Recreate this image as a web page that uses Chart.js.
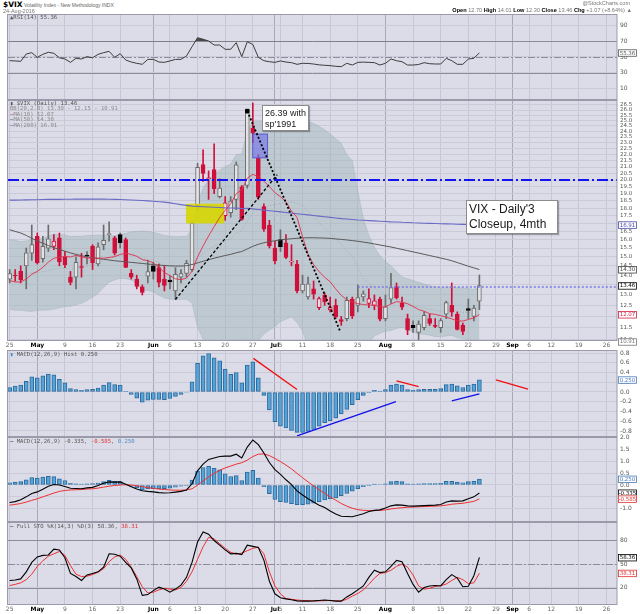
<!DOCTYPE html>
<html>
<head>
<meta charset="utf-8">
<script src="https://cdn.jsdelivr.net/npm/chart.js@4.4.1/dist/chart.umd.min.js"></script>
<style>
html,body{margin:0;padding:0;background:#fff;}
body{width:640px;height:614px;position:relative;overflow:hidden;font-family:"DejaVu Sans",Verdana,sans-serif;}
canvas{position:absolute;left:0;}
.lbl{position:absolute;white-space:nowrap;line-height:1;}
.leg{position:absolute;left:10px;font-family:"DejaVu Sans Mono",monospace;font-size:5.6px;color:#555;white-space:nowrap;line-height:5.4px;z-index:5;}
.note{position:absolute;background:#fff;border:1px solid #8c8c8c;box-shadow:1px 1px 1px rgba(0,0,0,0.3);font-family:"Liberation Sans",Arial,sans-serif;color:#1a1a1a;white-space:nowrap;z-index:6;box-sizing:border-box;}
</style>
</head>
<body>
<canvas id="cRsi" width="640" height="86" style="top:14px"></canvas>
<canvas id="cMain" width="640" height="255" style="top:95px"></canvas>
<canvas id="cHist" width="640" height="92" style="top:345px"></canvas>
<canvas id="cMacd" width="640" height="90" style="top:432px"></canvas>
<canvas id="cSto" width="640" height="97" style="top:517px"></canvas>

<div class="lbl" style="left:3px;top:1px;font-family:'Liberation Sans',Arial,sans-serif;font-size:5px;color:#666"><b style="color:#000;font-size:7.5px;font-family:'DejaVu Sans',sans-serif">$VIX</b> Volatility Index - New Methodology INDX</div>
<div class="lbl" style="left:3px;top:9px;font-family:'Liberation Sans',Arial,sans-serif;font-size:5.5px;color:#777">24-Aug-2016</div>
<div class="lbl" style="right:10px;top:1px;font-family:'Liberation Sans',Arial,sans-serif;font-size:5.5px;color:#777">@StockCharts.com</div>
<div class="lbl" style="right:8px;top:8px;font-family:'Liberation Sans',Arial,sans-serif;font-size:5.6px;color:#777"><b style="color:#000">Open</b> 12.70 <b style="color:#000">High</b> 14.01 <b style="color:#000">Low</b> 12.30 <b style="color:#000">Close</b> 13.46 <b style="color:#000">Chg</b> +1.07 (+8.64%) &#9650;</div>

<div class="leg" style="top:15px">&#9650;RSI(14) 55.36</div>
<div class="leg" style="top:101px">
<div>&#9646; $VIX (Daily) 13.46</div>
<div style="color:#8a8a8a">BB(20,2.0) 13.39 - 12.15 - 10.91</div>
<div style="color:#d02040">&#8212;<span style="color:#888">MA(10) 12.07</span></div>
<div style="color:#444">&#8212;<span style="color:#888">MA(50) 14.30</span></div>
<div style="color:#5050b8">&#8212;<span style="color:#888">MA(200) 16.91</span></div>
</div>
<div class="leg" style="top:352px"><span style="color:#3a8ac4">&#9646;</span> MACD(12,26,9) Hist 0.250</div>
<div class="leg" style="top:439px"><span style="color:#000">&#8212;</span> MACD(12,26,9) -0.335, <span style="color:#e03030">-0.585</span>, <span style="color:#4a8ac8">0.250</span></div>
<div class="leg" style="top:524px"><span style="color:#000">&#8212;</span> Full STO %K(14,3) %D(3) 58.36, <span style="color:#e03030">38.31</span></div>

<div class="note" style="left:262px;top:105px;width:47px;height:26px;font-size:9px;line-height:10.5px;padding:2px 0 0 2px">26.39 with<br>sp'1991</div>
<div class="note" style="left:466px;top:200px;width:92px;height:34px;font-size:12px;line-height:15px;padding:1px 0 0 2px">VIX - Daily'3<br>Closeup, 4mth</div>

<script>
// ---------------- DATA ----------------
const days = ['Apr 25','Apr 26','Apr 27','Apr 28','Apr 29','May 2','May 3','May 4','May 5','May 6',
 'May 9','May 10','May 11','May 12','May 13','May 16','May 17','May 18','May 19','May 20',
 'May 23','May 24','May 25','May 26','May 27','May 31','Jun 1','Jun 2','Jun 3',
 'Jun 6','Jun 7','Jun 8','Jun 9','Jun 10','Jun 13','Jun 14','Jun 15','Jun 16','Jun 17',
 'Jun 20','Jun 21','Jun 22','Jun 23','Jun 24','Jun 27','Jun 28','Jun 29','Jun 30','Jul 1',
 'Jul 5','Jul 6','Jul 7','Jul 8','Jul 11','Jul 12','Jul 13','Jul 14','Jul 15',
 'Jul 18','Jul 19','Jul 20','Jul 21','Jul 22','Jul 25','Jul 26','Jul 27','Jul 28','Jul 29',
 'Aug 1','Aug 2','Aug 3','Aug 4','Aug 5','Aug 8','Aug 9','Aug 10','Aug 11','Aug 12',
 'Aug 15','Aug 16','Aug 17','Aug 18','Aug 19','Aug 22','Aug 23','Aug 24'];

const tickIdx  = [0,5,10,15,20,26,29,34,39,44,48,49,53,58,63,68,73,78,83,88,91,94,98,103,108];
const tickText = ['25','May','9','16','23','Jun','6','13','20','27','Jul','5','11','18','25','Aug','8','15','22','29','Sep','6','12','19','26'];
const monthIdx = [5,26,48,68,91];

const prevClose = 13.22;
const openV = [13.8,14.0,14.2,14.5,15.2, 16.2,14.9,15.5,15.6,16.1, 15.0,13.9,13.9,14.45,15.1, 15.6,14.6,15.7,16.3,16.1, 16.3,16.0,14.1,13.8,13.4,
 13.95,14.5,14.4,13.8, 13.75,13.2,13.9,14.1,14.3, 18.2,21.2,20.1,20.8,18.8, 17.5,17.7,18.6,19.5,19.6, 24.3,21.7,18.1,16.9,15.5,
 16.0,15.8,14.7,14.6, 13.2,12.9,13.3,12.4,13.0, 12.3,12.5,11.85,11.9,12.8, 12.5,12.9,12.6,12.5,12.8, 11.9,12.8,13.4,12.6,11.9,
 11.6,11.3,11.5,11.9,11.6, 11.5,12.1,12.5,12.1,11.6, 12.35,12.0,12.70];
const highV = [14.3,14.3,14.5,15.5,16.9, 16.4,16.2,16.9,16.3,16.4, 15.3,14.2,15.0,15.2,15.3, 15.7,15.8,16.9,17.1,16.2, 16.4,16.1,14.3,14.0,13.5,
 14.8,14.7,14.6,14.5, 14.0,14.4,14.3,14.8,17.2, 21.3,22.4,20.7,22.9,20.1, 18.8,18.8,21.4,19.6,26.0, 26.7,22.0,18.3,17.2,15.9,
 16.6,16.3,15.7,14.8, 14.0,13.9,13.7,12.9,13.1, 12.9,12.8,12.0,12.9,12.9, 13.5,13.2,13.3,13.0,12.9, 13.0,14.1,13.6,12.9,12.1,
 11.8,11.8,12.2,12.1,11.9, 11.9,12.7,13.6,12.2,11.7, 12.8,12.5,14.01];
const lowV = [13.6,13.7,13.6,13.3,14.8, 14.6,14.7,15.3,15.4,14.5, 14.4,13.5,13.3,13.9,14.6, 14.3,14.5,15.4,15.9,15.1, 15.5,14.4,13.8,13.3,13.0,
 13.6,13.8,13.4,13.2, 13.3,12.8,13.6,13.9,14.2, 17.9,19.9,18.6,19.0,18.7, 17.2,17.4,17.9,17.2,19.4, 23.0,18.6,16.5,15.5,14.6,
 15.3,14.9,14.5,13.1, 13.1,12.8,12.8,12.3,12.5, 12.2,11.9,11.6,11.8,11.9, 12.2,12.7,12.4,12.3,11.8, 11.8,12.6,12.8,12.3,11.2,
 11.3,11.0,11.4,11.6,11.5, 11.3,11.9,12.0,11.4,11.2, 11.9,11.8,12.30];
const closeV = [14.08,13.96,13.77,15.22,15.70, 14.68,15.60,16.05,15.91,14.72, 14.57,13.63,14.69,14.41,15.04, 14.68,15.57,15.95,16.33,15.20,
 15.82,14.42,13.90,13.43,13.12, 14.19,14.20,13.63,13.47, 13.65,14.05,14.08,14.64,17.03, 20.97,20.50,20.14,19.37,19.41,
 18.37,18.48,21.17,17.25,25.76, 23.85,18.75,16.64,15.63,14.77, 15.58,14.96,14.76,13.20, 13.54,13.55,13.04,12.82,12.67,
 12.44,11.97,11.77,12.74,12.02, 12.87,13.05,12.83,12.72,11.87, 12.44,13.37,12.86,12.42,11.39, 11.50,11.66,12.05,11.68,11.55,
 11.81,12.64,12.19,11.43,11.34, 12.27,12.38,13.46];

const ma10V = [13.72,13.65,13.65,13.80,14.05,14.20,14.42,14.70,14.92,14.97, 15.02,14.99,15.08,15.00,14.93,14.93,14.93,14.92,14.96,15.01,
 15.13,15.21,15.13,15.03,14.84,14.79,14.66,14.42,14.14,13.98, 13.81,13.77,13.85,14.21,14.99,15.62,16.22,16.79,17.38,17.86,
 18.30,19.01,19.27,20.14,20.43,20.26,19.91,19.53,19.07,18.79, 18.44,17.80,17.39,16.17,15.14,14.57,14.19,13.89,13.66,13.30,
 12.98,12.77,12.66,12.59,12.54,12.52,12.51,12.43,12.43,12.57, 12.68,12.65,12.58,12.45,12.31,12.23,12.12,12.09,12.03,11.96,
 11.89,11.79,11.79,11.86,11.93,12.08];
const ma50V = [16.60,16.50,16.40,16.25,16.08,15.92,15.78,15.65,15.52,15.42, 15.32,15.22,15.14,15.06,15.00,14.95,14.90,14.86,14.82,14.78,
 14.75,14.72,14.69,14.66,14.63,14.60,14.57,14.54,14.52,14.50, 14.49,14.49,14.51,14.57,14.66,14.75,14.84,14.92,15.00,15.07,
 15.14,15.23,15.30,15.45,15.60,15.72,15.81,15.88,15.93,15.98, 16.02,16.05,16.08,16.10,16.11,16.11,16.10,16.09,16.07,16.04,
 16.01,15.98,15.94,15.90,15.85,15.80,15.74,15.68,15.62,15.56, 15.49,15.42,15.35,15.28,15.21,15.14,15.07,15.00,14.93,14.86,
 14.78,14.68,14.58,14.48,14.39,14.30];
const ma200V = [18.55,18.55,18.56,18.57,18.58,18.58,18.59,18.60,18.60,18.60, 18.61,18.61,18.62,18.62,18.62,18.62,18.62,18.62,18.61,18.60,
 18.59,18.58,18.56,18.54,18.52,18.50,18.47,18.44,18.41,18.36, 18.30,18.24,18.19,18.14,18.12,18.10,18.08,18.06,18.04,18.02,
 18.01,18.00,17.98,17.99,17.95,17.91,17.87,17.83,17.79,17.75, 17.71,17.67,17.63,17.59,17.55,17.51,17.47,17.43,17.39,17.35,
 17.31,17.28,17.25,17.22,17.20,17.18,17.16,17.14,17.12,17.10, 17.09,17.07,17.06,17.04,17.03,17.01,17.00,16.99,16.98,16.97,
 16.96,16.95,16.94,16.93,16.92,16.91];
const bbUpper = [15.99,15.96,15.88,15.92,16.02,16.00,16.08,16.21,16.32,16.31, 16.29,16.18,16.21,16.20,16.25,16.25,16.28,16.25,16.24,16.23,
 16.32,16.38,16.47,16.50,16.53,16.50,16.44,16.35,16.25,16.20, 16.17,16.19,16.19,16.62,18.32,19.41,20.04,20.41,20.76,21.02,
 21.26,21.99,22.06,24.08,24.91,24.94,24.91,24.92,24.93,24.89, 24.87,24.85,24.93,24.96,24.89,24.72,24.45,24.15,23.77,23.35,
 22.95,21.99,21.53,19.18,17.34,16.25,15.55,15.06,14.75,14.50, 14.19,13.91,13.82,13.72,13.63,13.54,13.46,13.40,13.35,13.39,
 13.41,13.36,13.35,13.32,13.28,13.39];
const bbMid = [14.15,14.12,14.08,14.08,14.12,14.14,14.18,14.25,14.32,14.35, 14.37,14.32,14.37,14.40,14.49,14.57,14.68,14.81,14.94,14.99,
 15.08,15.10,15.11,15.02,14.89,14.86,14.80,14.67,14.55,14.50, 14.47,14.49,14.49,14.62,14.92,15.21,15.44,15.61,15.76,15.92,
 16.06,16.39,16.56,17.18,17.71,17.94,18.07,18.16,18.23,18.33, 18.37,18.41,18.33,18.16,17.79,17.42,17.05,16.71,16.37,16.05,
 15.71,15.29,15.03,14.38,13.84,13.55,13.35,13.16,13.05,12.94, 12.83,12.71,12.62,12.52,12.43,12.38,12.32,12.26,12.23,12.27,
 12.29,12.22,12.19,12.16,12.12,12.15];
const bbLower = [12.31,12.28,12.28,12.24,12.22,12.28,12.28,12.29,12.32,12.39, 12.45,12.46,12.53,12.60,12.73,12.89,13.08,13.37,13.64,13.75,
 13.84,13.82,13.75,13.54,13.25,13.22,13.16,12.99,12.85,12.80, 12.77,12.79,12.79,12.62,11.52,11.01,10.84,10.81,10.76,10.82,
 10.86,10.79,11.06,10.28,10.51,10.94,11.23,11.40,11.53,11.77, 11.87,11.97,11.73,11.36,10.69,10.12,9.65,9.27,8.97,8.75,
 8.47,8.59,8.53,9.58,10.34,10.85,11.15,11.26,11.35,11.38, 11.47,11.51,11.42,11.32,11.23,11.22,11.18,11.12,11.11,11.15,
 11.17,11.08,11.03,11.00,10.96,10.91];

const rsiV = [45.3,45.0,44.5,53.8,55.5,49.6,53.4,56.0,54.7,49.0, 47.5,43.2,48.3,47.5,50.4,49.0,53.4,55.5,57.2,49.6,
 54.2,46.2,43.6,42.0,40.7,47.0,47.0,43.6,43.2,45.0, 47.0,47.0,51.3,63.0,74.5,72.5,70.3,65.2,65.2,59.8,
 59.8,68.2,50.4,69.4,66.0,49.6,45.3,44.0,43.2,45.0, 43.6,42.8,40.7,42.0,41.8,41.1,40.0,39.5,39.0,38.2,
 37.7,42.0,39.8,43.2,43.5,43.2,42.8,39.8,42.0,47.5, 45.3,44.0,39.8,39.8,40.5,42.8,41.5,41.1,41.1,48.3,
 45.3,40.7,40.7,47.5,48.3,55.36];

const macdV = [-0.74,-0.70,-0.62,-0.50,-0.36,-0.29,-0.18,-0.05,0.02,0.00, -0.06,-0.14,-0.15,-0.16,-0.12,-0.10,-0.02,0.07,0.13,0.12,
 0.13,0.03,-0.07,-0.17,-0.24,-0.27,-0.29,-0.32,-0.34,-0.33, -0.30,-0.27,-0.21,0.05,0.60,0.88,1.08,1.14,1.20,1.22,
 1.22,1.30,1.14,1.60,1.90,1.70,1.35,0.95,0.65,0.45, 0.22,0.02,-0.25,-0.42,-0.58,-0.72,-0.85,-0.95,-1.10,-1.22,
 -1.32,-1.33,-1.34,-1.28,-1.21,-1.12,-1.07,-1.05,-0.97,-0.88, -0.84,-0.85,-0.88,-0.89,-0.88,-0.87,-0.86,-0.85,-0.82,-0.72,
 -0.67,-0.68,-0.67,-0.58,-0.50,-0.335];
const signalV = [-0.85,-0.82,-0.78,-0.72,-0.65,-0.58,-0.50,-0.42,-0.34,-0.27, -0.23,-0.21,-0.20,-0.19,-0.17,-0.16,-0.13,-0.09,-0.05,-0.02,
 0.00,0.01,0.00,-0.03,-0.07,-0.11,-0.14,-0.17,-0.19,-0.21, -0.22,-0.22,-0.21,-0.16,-0.01,0.17,0.34,0.49,0.62,0.72,
 0.80,0.88,0.94,1.05,1.20,1.30,1.31,1.24,1.12,0.99, 0.84,0.68,0.49,0.31,0.13,-0.04,-0.20,-0.35,-0.50,-0.64,
 -0.78,-0.89,-0.98,-1.04,-1.07,-1.08,-1.08,-1.07,-1.05,-1.01, -0.98,-0.96,-0.94,-0.93,-0.92,-0.91,-0.90,-0.89,-0.88,-0.85,
 -0.81,-0.79,-0.77,-0.73,-0.69,-0.585];
const histV = [0.09,0.12,0.14,0.22,0.31,0.29,0.33,0.37,0.35,0.26, 0.19,0.07,0.05,0.035,0.05,0.055,0.08,0.14,0.195,0.15,
 0.14,0.014,-0.05,-0.125,-0.21,-0.17,-0.15,-0.15,-0.16,-0.13, -0.09,-0.05,-0.01,0.21,0.59,0.74,0.79,0.70,0.64,0.47,
 0.36,0.40,0.19,0.55,0.62,0.29,-0.07,-0.37,-0.61,-0.70, -0.74,-0.79,-0.83,-0.83,-0.81,-0.77,-0.70,-0.63,-0.59,-0.54,
 -0.45,-0.36,-0.26,-0.16,-0.07,-0.007,0.035,0.02,0.05,0.14, 0.16,0.14,0.05,0.035,0.05,0.055,0.055,0.055,0.07,0.15,
 0.16,0.125,0.09,0.14,0.16,0.25];

const stoK = [29,29.5,31,40,52,59,61,61.5,69,68, 58,38,34,29,36,38,40,46,63,62.5,
 60,52,45,31,10,11,16,20.5,18,14, 18,23,33,52,78,91,88,80,74,68,
 63,63.5,62,74,72.5,71,55,28,12,7, 5.5,4.5,3,2.7,2.7,3,3.5,4,3.5,2.7,
 2.7,8,12,17,22,33,42,39,40,47, 54.6,53,38,24,14,20,22,22.6,22,30,
 36.5,32,21,21.5,35,58.36];
const stoD = [22.5,24,26,30,37,47,54,60,63,66, 61,48,37,34,34.5,36.5,39.5,44,53,59,
 61.5,56,46,34,21,13,14,17,19,18, 17,20,28,40,56,72,84,82,76,70,
 65,62.7,63.9,67,70,71.5,63,40,22,12, 6,5,4,3.5,3.2,3,3,3.2,3.5,3,
 2.8,5,9,12.5,17,24,32,38,39,42, 47,50,46,36,22,18,19,21.5,22.3,24.5,
 29,33,30,25,26,38.31];

const mainTicks = [11.0,11.5,12.0,12.5,13.0,13.5,14.0,14.5,15.0,15.5,16.0,16.5,17.0,17.5,18.0,18.5,19.0,19.5,20.0,20.5,21.0,21.5,22.0,22.5,23.0,23.5,24.0,24.5,25.0,25.5,26.0,26.5];
const rsiTicks = [10,30,50,70,90];
const histTicks = [-0.8,-0.6,-0.4,-0.2,0,0.2,0.4,0.6,0.8];
const macdTicks = [-1.0,-0.5,0,0.5,1.0,1.5,2.0];
const stoTicks = [20,50,80];

// drawn annotations (data coordinates)
const level20 = 20.0;
const level134 = {from:63, value:13.4};
const riseLine = [{x:30, y:12.78},{x:48.4, y:20.4}];
const fallLine = [{x:43, y:25.9},{x:59.8, y:11.35}];
const yellowBox = {x0:31.9, x1:38.8, y0:17.0, y1:18.3};
const blueBox = {x0:43.9, x1:46.75, y0:21.7, y1:23.8};
const histRed = [[{x:44.1,y:0.69},{x:52,y:0.05}], [{x:70,y:0.23},{x:74,y:0.11}], [{x:88,y:0.25},{x:93.8,y:0.06}]];
const histBlue = [[{x:52,y:-0.90},{x:69.9,y:-0.20}], [{x:80,y:-0.18},{x:85,y:-0.04}]];

// ---------------- CHARTS ----------------
const X_MIN = -0.3, X_MAX = 109.9;
const AREA_BG = '#dcdce9';
const LEVEL_COL = '#8c8c9c';

Chart.defaults.animation = false;
Chart.defaults.events = [];
Chart.defaults.font.family = '"DejaVu Sans", sans-serif';
Chart.defaults.plugins.legend.display = false;
Chart.defaults.plugins.tooltip.enabled = false;
Chart.defaults.elements.point.radius = 0;
Chart.defaults.elements.line.tension = 0;

const pts = arr => arr.map((v,i)=>({x:i, y:v}));
const last = arr => arr[arr.length-1];

function xAxis(labels){
  return {
    type:'linear', min:X_MIN, max:X_MAX, bounds:'data', offset:false,
    afterBuildTicks(s){ s.ticks = tickIdx.map(v=>({value:v})); },
    afterFit(s){ s.height = labels ? 9 : 0; s.paddingLeft = 0; s.paddingRight = 0; },
    border:{display:false},
    grid:{offset:false, drawTicks:false, lineWidth:1, color:c => (c.tick && monthIdx.includes(c.tick.value)) ? '#a8a8ba' : '#c6c6d7'},
    ticks:{display:labels, autoSkip:false, maxRotation:0, minRotation:0, padding:1,
      color:c => (c.tick && monthIdx.includes(c.tick.value)) ? '#000' : '#666',
      font:c => ({size:6, weight:(c.tick && monthIdx.includes(c.tick.value)) ? 'bold' : 'normal'}),
      callback:v => tickText[tickIdx.indexOf(v)]}
  };
}
function yAxis(o){
  return {
    type:o.type || 'linear', position:'right', min:o.min, max:o.max, bounds:'data',
    afterBuildTicks(s){ s.ticks = o.ticks.map(v=>({value:v})); },
    afterFit(s){ s.width = 23; s.paddingTop = 0; s.paddingBottom = 0; },
    border:{display:false},
    grid:{drawTicks:false, lineWidth:1, color:'#cacad9'},
    ticks:{padding:3, autoSkip:false, font:{size:o.fs || 6}, color:'#555', callback:v => o.fmt(v)}
  };
}
function deco(opt){
  return {
    id:'deco',
    beforeDraw(chart){
      const a = chart.chartArea, c = chart.ctx;
      c.save(); c.fillStyle = AREA_BG; c.fillRect(a.left, a.top, a.right-a.left, a.bottom-a.top); c.restore();
    },
    beforeDatasetsDraw(chart){
      if(!opt.levels) return;
      const a = chart.chartArea, c = chart.ctx, y = chart.scales.y;
      c.save();
      opt.levels.forEach(l => {
        const py = Math.round(y.getPixelForValue(l.v)) + 0.5;
        c.strokeStyle = LEVEL_COL; c.lineWidth = 1; c.setLineDash(l.dash || []);
        c.beginPath(); c.moveTo(a.left, py); c.lineTo(a.right, py); c.stroke();
      });
      c.restore();
    },
    afterDatasetDraw(chart, args){
      if(!opt.boxes) return;
      if(chart.data.datasets[args.index].tag !== 'bodies') return;
      const a = chart.chartArea, c = chart.ctx, xs = chart.scales.x, ys = chart.scales.y;
      c.save(); c.beginPath(); c.rect(a.left, a.top, a.right-a.left, a.bottom-a.top); c.clip();
      opt.boxes.forEach(b => {
        const x0 = xs.getPixelForValue(b.box.x0), x1 = xs.getPixelForValue(b.box.x1);
        const y0 = ys.getPixelForValue(b.box.y1), y1 = ys.getPixelForValue(b.box.y0);
        c.fillStyle = b.fill; c.fillRect(x0, y0, x1-x0, y1-y0);
        if(b.stroke){ c.strokeStyle = b.stroke; c.lineWidth = 1; c.strokeRect(x0+0.5, y0+0.5, x1-x0-1, y1-y0-1); }
      });
      c.restore();
    },
    afterDraw(chart){
      const a = chart.chartArea, c = chart.ctx, y = chart.scales.y;
      c.save();
      c.strokeStyle = '#9a9aaa'; c.lineWidth = 1;
      c.strokeRect(a.left-0.5, a.top+0.5, a.right-a.left+0.5, a.bottom-a.top-1);
      (opt.vboxes || []).forEach(b => {
        const py = y.getPixelForValue(b.v);
        c.fillStyle = '#ffffff'; c.fillRect(a.right+1, py-3.5, 19, 7);
        c.strokeStyle = b.col; c.lineWidth = 0.8; c.strokeRect(a.right+1.5, py-3, 18, 6.5);
        c.fillStyle = b.col; c.font = '5.5px "DejaVu Sans", sans-serif';
        c.textAlign = 'center'; c.textBaseline = 'middle';
        c.fillText(b.t, a.right+10.5, py+0.3);
      });
      c.restore();
    }
  };
}
const baseOpts = (xLabels, y, padTop) => ({
  responsive:false, maintainAspectRatio:false, animation:false,
  layout:{autoPadding:false, padding:{left:8, right:0, top:padTop || 0, bottom:0}},
  scales:{x:xAxis(xLabels), y:y},
  plugins:{legend:{display:false}, tooltip:{enabled:false}}
});

// candle helpers
const isUp = i => closeV[i] >= (i === 0 ? prevClose : closeV[i-1]);
const isHollow = i => closeV[i] >= openV[i];
const RED = '#d0103a';
const bodyFill = i => isHollow(i) ? 'rgba(247,247,250,0.85)' : (isUp(i) ? '#000000' : RED);
const bodyLine = i => isUp(i) ? (isHollow(i) ? '#6c6c6c' : '#000000') : RED;
const wickLine = i => isUp(i) ? '#6c6c6c' : RED;

// RSI
new Chart(document.getElementById('cRsi'), {
  type:'line',
  data:{datasets:[{data:pts(rsiV), borderColor:'#3c3c3c', borderWidth:1,
    fill:{target:{value:70}, above:'#4a4a4a', below:'rgba(0,0,0,0)'}}]},
  options:baseOpts(false, yAxis({min:-4.6, max:104.6, ticks:rsiTicks, fmt:v=>String(v)}), 0),
  plugins:[deco({levels:[{v:70},{v:30},{v:50, dash:[7,2,2,2]}], vboxes:[{v:last(rsiV), t:'55.36', col:'#555'}]})]
});

// MAIN price panel
new Chart(document.getElementById('cMain'), {
  type:'line',
  data:{datasets:[
    {data:pts(bbUpper), borderColor:'rgba(150,165,170,0.55)', borderWidth:0.6, fill:'+1', backgroundColor:'rgba(160,182,186,0.5)', order:30},
    {data:pts(bbLower), borderColor:'rgba(150,165,170,0.55)', borderWidth:0.6, fill:false, order:31},
    {data:pts(bbMid), borderColor:'rgba(140,150,160,0.8)', borderWidth:0.7, borderDash:[1,2], fill:false, order:29},
    {type:'bar', tag:'wicks', data:closeV.map((_,i)=>({x:i, y:[lowV[i], highV[i]]})), barThickness:1, grouped:false,
      borderWidth:0, borderSkipped:false, backgroundColor:c=>wickLine(c.dataIndex), order:21},
    {type:'bar', tag:'bodies', data:closeV.map((_,i)=>({x:i, y:[openV[i], closeV[i]]})), barThickness:4, grouped:false,
      minBarLength:1, borderWidth:1, borderSkipped:false, backgroundColor:c=>bodyFill(c.dataIndex), borderColor:c=>bodyLine(c.dataIndex), order:20},
    {data:pts(ma200V), borderColor:'#6a6ac4', borderWidth:1.1, fill:false, order:12},
    {data:pts(ma50V), borderColor:'#5a5a5a', borderWidth:1, fill:false, order:11},
    {data:pts(ma10V), borderColor:'#e0304a', borderWidth:0.9, fill:false, order:10},
    {data:riseLine, borderColor:'#000', borderWidth:1.3, borderDash:[3,2], fill:false, order:5},
    {data:fallLine, borderColor:'#000', borderWidth:1.8, borderDash:[2,2], fill:false, order:4},
    {data:[{x:X_MIN, y:level20},{x:X_MAX, y:level20}], borderColor:'#1414f0', borderWidth:2, borderDash:[11,3,2,3], fill:false, order:3},
    {data:[{x:level134.from, y:level134.value},{x:X_MAX, y:level134.value}], borderColor:'#7a7ae6', borderWidth:1.5, borderDash:[2,2], fill:false, order:2},
    {data:[fallLine[0]], borderColor:'#000', backgroundColor:'#000', pointRadius:2.5, pointStyle:'rect', showLine:false, order:1}
  ]},
  options:baseOpts(true, yAxis({type:'logarithmic', min:10.94, max:27.0, ticks:mainTicks, fs:5.5, fmt:v=>v.toFixed(1)}), 5),
  plugins:[deco({
    boxes:[{box:yellowBox, fill:'rgba(214,214,0,0.9)'}, {box:blueBox, fill:'rgba(112,112,232,0.6)', stroke:'rgba(80,80,200,0.8)'}],
    vboxes:[{v:last(ma200V), t:'16.91', col:'#4a4ab0'}, {v:last(ma50V), t:'14.30', col:'#444'},
            {v:last(closeV), t:'13.46', col:'#000'}, {v:last(ma10V), t:'12.07', col:'#d02040'},
            {v:last(bbLower), t:'10.91', col:'#777'}]
  })]
});

// MACD histogram panel
const histDatasets = [
  {type:'bar', tag:'hist', data:pts(histV), barThickness:4, grouped:false, borderWidth:1, borderSkipped:false,
    backgroundColor:'#58a2d6', borderColor:'#2a6b9e', order:10}
];
histRed.forEach(l => histDatasets.push({data:l, borderColor:'#f01010', borderWidth:1.3, fill:false, order:1}));
histBlue.forEach(l => histDatasets.push({data:l, borderColor:'#1010e8', borderWidth:1.3, fill:false, order:1}));
new Chart(document.getElementById('cHist'), {
  type:'line',
  data:{datasets:histDatasets},
  options:baseOpts(false, yAxis({min:-0.924, max:0.862, ticks:histTicks, fmt:v=>v.toFixed(1)}), 5),
  plugins:[deco({vboxes:[{v:last(histV), t:'0.250', col:'#4a7ab8'}]})]
});

// MACD panel
new Chart(document.getElementById('cMacd'), {
  type:'line',
  data:{datasets:[
    {type:'bar', data:pts(histV), barThickness:4, grouped:false, borderWidth:1, borderSkipped:false,
      backgroundColor:'#58a2d6', borderColor:'#2a6b9e', order:10},
    {data:pts(signalV), borderColor:'#ee3030', borderWidth:1, fill:false, order:2},
    {data:pts(macdV), borderColor:'#000', borderWidth:1.1, fill:false, order:1}
  ]},
  options:baseOpts(false, yAxis({min:-1.561, max:2.025, ticks:macdTicks, fmt:v=>v.toFixed(1)}), 5),
  plugins:[deco({vboxes:[{v:last(histV), t:'0.250', col:'#4a7ab8'}, {v:last(macdV), t:'-0.335', col:'#000'}, {v:last(signalV), t:'-0.585', col:'#e03030'}]})]
});

// Full Stochastics panel
new Chart(document.getElementById('cSto'), {
  type:'line',
  data:{datasets:[
    {data:pts(stoD), borderColor:'#ee3030', borderWidth:1, fill:false, order:2},
    {data:pts(stoK), borderColor:'#000', borderWidth:1.1, fill:false, order:1}
  ]},
  options:baseOpts(true, yAxis({min:-2.3, max:103.6, ticks:stoTicks, fmt:v=>String(v)}), 5),
  plugins:[deco({levels:[{v:80},{v:20},{v:50, dash:[7,2,2,2]}], vboxes:[{v:last(stoK), t:'58.36', col:'#000'}, {v:last(stoD), t:'38.31', col:'#e03030'}]})]
});
</script>
</body>
</html>
